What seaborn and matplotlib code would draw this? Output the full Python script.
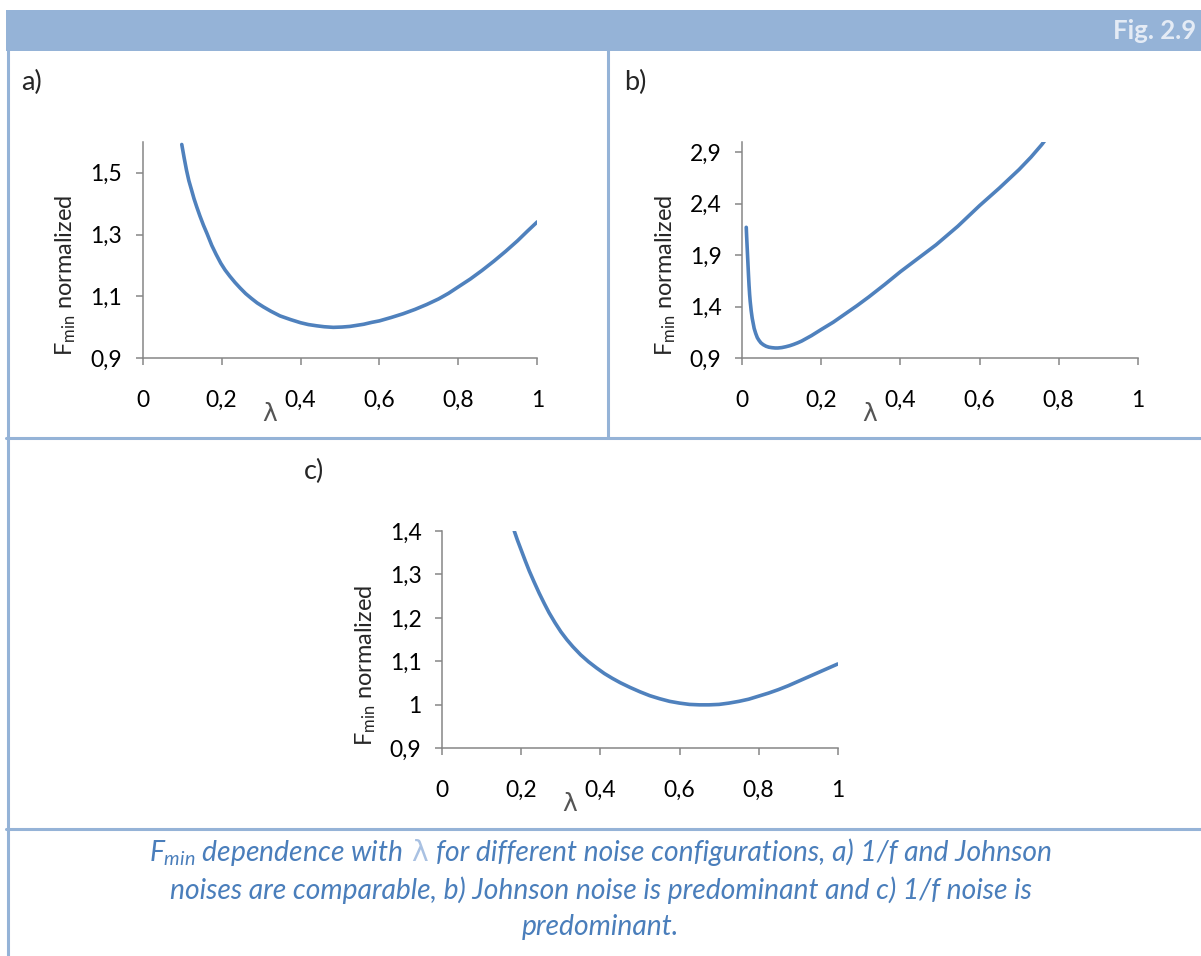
import matplotlib
matplotlib.use("Agg")
import matplotlib.pyplot as plt
import seaborn as sns
from matplotlib.patches import Rectangle
from matplotlib.lines import Line2D
from matplotlib.offsetbox import TextArea, HPacker, AnnotationBbox

# ---- data: normalized minimum noise factor versus lambda ----
# a) 1/f and Johnson noise comparable
lam_a = [0.099, 0.105, 0.111, 0.117, 0.124, 0.130, 0.137, 0.145, 0.154, 0.163,
         0.175, 0.186, 0.198, 0.209, 0.221, 0.234, 0.247, 0.261, 0.276, 0.290,
         0.306, 0.325, 0.348, 0.375, 0.400, 0.420, 0.441, 0.460, 0.483, 0.505,
         0.525, 0.540, 0.560, 0.580, 0.600, 0.630, 0.660, 0.690, 0.720, 0.750,
         0.775, 0.800, 0.830, 0.860, 0.890, 0.920, 0.950, 0.975, 1.000]
fmin_a = [1.591, 1.548, 1.508, 1.474, 1.443, 1.416, 1.389, 1.360, 1.330, 1.303,
          1.265, 1.236, 1.207, 1.185, 1.165, 1.145, 1.127, 1.109, 1.093, 1.079,
          1.066, 1.052, 1.037, 1.025, 1.015, 1.009, 1.005, 1.002, 1.000, 1.001,
          1.003, 1.006, 1.010, 1.016, 1.021, 1.032, 1.044, 1.058, 1.074, 1.092,
          1.110, 1.131, 1.156, 1.184, 1.214, 1.246, 1.280, 1.311, 1.341]

# b) Johnson noise predominant
lam_b = [0.010, 0.011, 0.012, 0.013, 0.014, 0.0155, 0.017, 0.0185, 0.020, 0.0225,
         0.025, 0.0275, 0.030, 0.034, 0.038, 0.042, 0.047, 0.053, 0.060, 0.067,
         0.075, 0.083, 0.090, 0.100, 0.110, 0.120, 0.130, 0.140, 0.150, 0.175,
         0.200, 0.230, 0.260, 0.290, 0.320, 0.360, 0.400, 0.445, 0.490, 0.545,
         0.600, 0.650, 0.700, 0.730, 0.757, 0.765]
fmin_b = [2.17, 2.08, 2.00, 1.92, 1.84, 1.72, 1.61, 1.52, 1.45, 1.36,
          1.29, 1.24, 1.19, 1.14, 1.10, 1.075, 1.05, 1.032, 1.017, 1.008,
          1.003, 1.000, 1.000, 1.004, 1.012, 1.022, 1.035, 1.050, 1.067, 1.12,
          1.18, 1.25, 1.33, 1.41, 1.495, 1.615, 1.74, 1.87, 2.00, 2.18,
          2.38, 2.55, 2.73, 2.85, 2.97, 3.01]

# c) 1/f noise predominant
lam_c = [0.182, 0.190, 0.200, 0.210, 0.220, 0.232, 0.245, 0.258, 0.270, 0.285,
         0.300, 0.315, 0.330, 0.350, 0.370, 0.390, 0.410, 0.430, 0.450, 0.475,
         0.500, 0.525, 0.550, 0.575, 0.600, 0.625, 0.650, 0.675, 0.700, 0.725,
         0.750, 0.775, 0.800, 0.825, 0.850, 0.875, 0.900, 0.925, 0.950, 0.975,
         1.000]
fmin_c = [1.400, 1.379, 1.355, 1.331, 1.308, 1.283, 1.257, 1.233, 1.212, 1.189,
          1.168, 1.150, 1.134, 1.115, 1.099, 1.085, 1.072, 1.061, 1.051, 1.040,
          1.030, 1.021, 1.014, 1.008, 1.004, 1.001, 1.000, 1.000, 1.001, 1.004,
          1.008, 1.013, 1.020, 1.027, 1.035, 1.044, 1.054, 1.064, 1.074, 1.084,
          1.094]

x_ticks = [0, 0.2, 0.4, 0.6, 0.8, 1]
y_ticks_a = [0.9, 1.1, 1.3, 1.5]
y_ticks_b = [0.9, 1.4, 1.9, 2.4, 2.9]
y_ticks_c = [0.9, 1.0, 1.1, 1.2, 1.3, 1.4]
y_lims = {"a": (0.9, 1.6), "b": (0.9, 3.0), "c": (0.9, 1.4)}

panel_labels = ["a)", "b)", "c)"]
fig_number = "Fig. 2.9"
caption_lines = [
    ("$F_{min}$ dependence with", "λ", "for different noise configurations, a) 1/f and Johnson"),
    ("noises are comparable, b) Johnson noise is predominant and c) 1/f noise is",),
    ("predominant.",),
]

# ---- style ----
sns.set_style("white")
plt.rcParams["font.family"] = ["Lato", "DejaVu Sans"]
plt.rcParams["mathtext.fontset"] = "custom"
plt.rcParams["mathtext.rm"] = "Lato"
plt.rcParams["mathtext.it"] = "Lato:italic"

LINE = "#4F81BD"
AXIS = "#868686"
FRAME = "#95B3D7"
CAPTION = "#4A7EBB"

W, H = 1201, 956
fig = plt.figure(figsize=(W / 100, H / 100), dpi=100)
fig.patch.set_facecolor("white")


def fx(px):
    return px / W


def fy(py):
    return 1 - py / H


def axes_at(left, top, right, bottom):
    return fig.add_axes([fx(left), fy(bottom), fx(right) - fx(left), fy(top) - fy(bottom)])


def fmt(v):
    return ("%g" % v).replace(".", ",")


def draw_panel(ax, lam, fmin, yticks, ylim):
    sns.lineplot(x=lam, y=fmin, ax=ax, color=LINE, linewidth=2.6)
    ax.set_xlim(0, 1)
    ax.set_ylim(*ylim)
    ax.set_xticks(x_ticks)
    ax.set_xticklabels([fmt(v) for v in x_ticks])
    ax.set_yticks(yticks)
    ax.set_yticklabels([fmt(v) for v in yticks])
    for side in ("top", "right"):
        ax.spines[side].set_visible(False)
    for side in ("left", "bottom"):
        ax.spines[side].set_color(AXIS)
        ax.spines[side].set_linewidth(1.1)
    ax.tick_params(bottom=True, left=True, direction="out", length=5, width=1.1,
                   color=AXIS, labelsize=16.5, labelcolor="black")
    ax.tick_params(axis="x", pad=18)
    ax.tick_params(axis="y", pad=10)
    ax.set_ylabel(r"F$_{\mathregular{min}}$ normalized", fontsize=17)
    ax.yaxis.set_label_coords(-0.163, 0.382)
    ax.set_xlabel("λ", fontsize=18, color="#555555", family="DejaVu Sans", va="center")
    ax.xaxis.set_label_coords(0.322, -0.257)
    ax.patch.set_alpha(0)


axa = axes_at(142.7, 141.7, 537.3, 358.3)
axb = axes_at(742.3, 141.7, 1137.7, 358.3)
axc = axes_at(442.3, 531.0, 837.7, 748.3)
draw_panel(axa, lam_a, fmin_a, y_ticks_a, y_lims["a"])
draw_panel(axb, lam_b, fmin_b, y_ticks_b, y_lims["b"])
draw_panel(axc, lam_c, fmin_c, y_ticks_c, y_lims["c"])

# ---- frame: header band and separators ----
fig.add_artist(Rectangle((fx(6), fy(50.5)), fx(W) - fx(6), 40.5 / H,
                         transform=fig.transFigure, facecolor=FRAME, edgecolor="none"))
fig.text(fx(1196), fy(31), fig_number, ha="right", va="center", fontsize=18.5,
         weight="bold", color="#E4EBF5")
for (x0, y0, x1, y1) in [(7.5, 50, 7.5, 956), (608, 50, 608, 437.5),
                         (6, 437.5, W, 437.5), (6, 829, W, 829)]:
    fig.add_artist(Line2D([fx(x0), fx(x1)], [fy(y0), fy(y1)], transform=fig.transFigure,
                          color=FRAME, linewidth=2.2))

# ---- panel letters ----
for label, (px, py) in zip(panel_labels, [(21, 82), (624, 82), (304, 471)]):
    fig.text(fx(px), fy(py), label, ha="left", va="center", fontsize=19.5)

# ---- caption ----
cap_props = dict(fontsize=20.3, style="italic", color=CAPTION)
for parts, py in zip(caption_lines, [853, 890, 927]):
    children = []
    for part in parts:
        props = dict(cap_props)
        if part == "λ":
            props.update(color="#A9C1E2", style="normal", family="DejaVu Sans")
        children.append(TextArea(part, textprops=props))
    box = HPacker(children=children, align="baseline", pad=0, sep=6)
    ab = AnnotationBbox(box, (0.5, fy(py)), xycoords="figure fraction",
                        frameon=False, box_alignment=(0.5, 0.5), pad=0)
    fig.add_artist(ab)

fig.savefig("out.png", dpi=100)
